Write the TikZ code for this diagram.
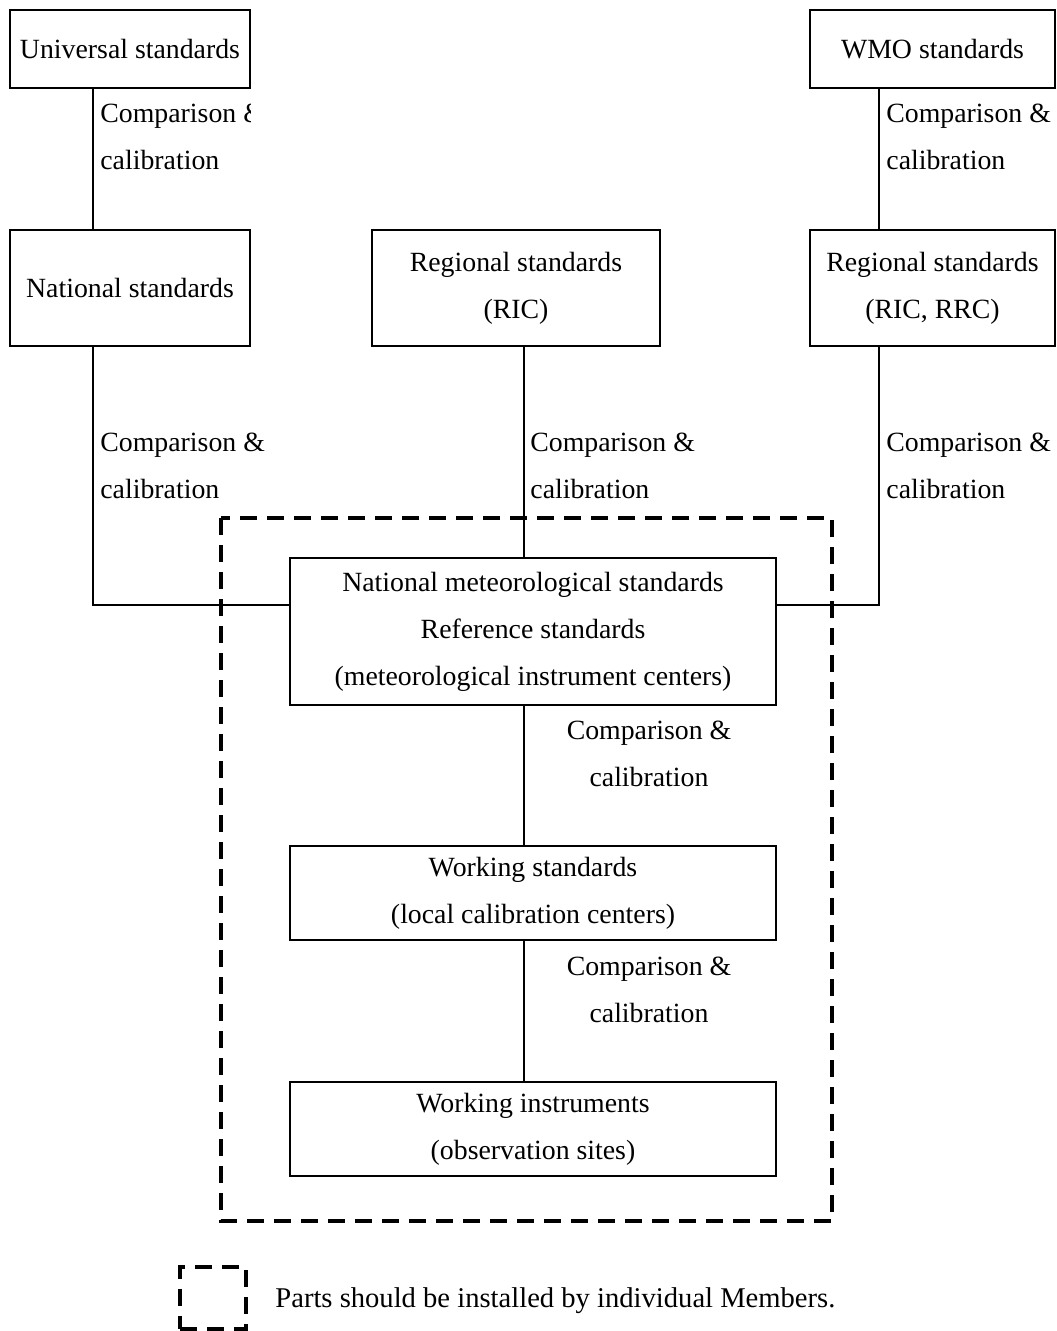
\documentclass[tikz,border=0pt]{standalone}
\usepackage{fontspec}
\setmainfont{Liberation Serif}
\begin{document}
\begin{tikzpicture}[x=0.5pt,y=-0.5pt,
    stdbox/.style={draw=black, line width=1pt, align=center, inner sep=0pt},
    caltext/.style={align=left, anchor=west, inner sep=0pt},
    link/.style={draw=black, line width=1pt},
    member/.style={draw=black, line width=2pt, dash pattern=on 8.5pt off 5pt}]
            \tikzstyle{every node}+=[font=\fontsize{13.9}{23.5}\selectfont]
            \useasboundingbox (0,0) rectangle (1056,1331);
            \draw [member] (221,518) rectangle (832,1221);
            \node [stdbox, minimum width=120pt, minimum height=39pt] (univ) at (130,49) {Universal standards};
            \node [stdbox, minimum width=122.5pt, minimum height=39pt] (wmo) at (932.5,49) {WMO standards};
            \node [stdbox, minimum width=120pt, minimum height=58pt] (natl) at (130,288) {National standards};
            \node [stdbox, minimum width=144pt, minimum height=58pt] (ric) at (516,288) {Regional standards\\(RIC)};
            \node [stdbox, minimum width=122.5pt, minimum height=58pt] (rrc) at (932.5,288) {Regional standards\\(RIC, RRC)};
            \node [stdbox, minimum width=243pt, minimum height=73.5pt] (nms) at (533,631.5) {National meteorological standards\\Reference standards\\(meteorological instrument centers)};
            \node [stdbox, minimum width=243pt, minimum height=47pt] (ws) at (533,893) {Working standards\\(local calibration centers)};
            \node [stdbox, minimum width=243pt, minimum height=47pt] (wi) at (533,1129) {Working instruments\\(observation sites)};
            \draw [link] (univ.south -| 93,0) -- (natl.north -| 93,0);
            \draw [link] (wmo.south -| 879,0) -- (rrc.north -| 879,0);
            \draw [link] (natl.south -| 93,0) |- (nms.west |- 0,605);
            \draw [link] (ric.south -| 524,0) -- (nms.north -| 524,0);
            \draw [link] (rrc.south -| 879,0) |- (nms.east |- 0,605);
            \draw [link] (nms.south -| 524,0) -- (ws.north -| 524,0);
            \draw [link] (ws.south -| 524,0) -- (wi.north -| 524,0);
            \begin{scope}
              \clip (0,90) rectangle (250,228);
              \node [caltext] (cal1) at (100,137) {Comparison \&\\calibration};
            \end{scope}
            \node [caltext] (cal2) at (886,137) {Comparison \&\\calibration};
            \node [caltext] (cal3) at (100,466) {Comparison \&\\calibration};
            \node [caltext] (cal4) at (530,466) {Comparison \&\\calibration};
            \node [caltext] (cal5) at (886,466) {Comparison \&\\calibration};
            \node [align=center, inner sep=0pt] (cal6) at (649,754) {Comparison \&\\calibration};
            \node [align=center, inner sep=0pt] (cal7) at (649,990) {Comparison \&\\calibration};
            \node [member, minimum width=33pt, minimum height=31pt] (legbox) at (213,1297.5) {};
            \node [anchor=west, inner sep=0pt, font=\fontsize{14.3}{17}\selectfont] (legtext) at (275,1301) {Parts should be installed by individual Members.};
          \end{tikzpicture}
\end{document}
